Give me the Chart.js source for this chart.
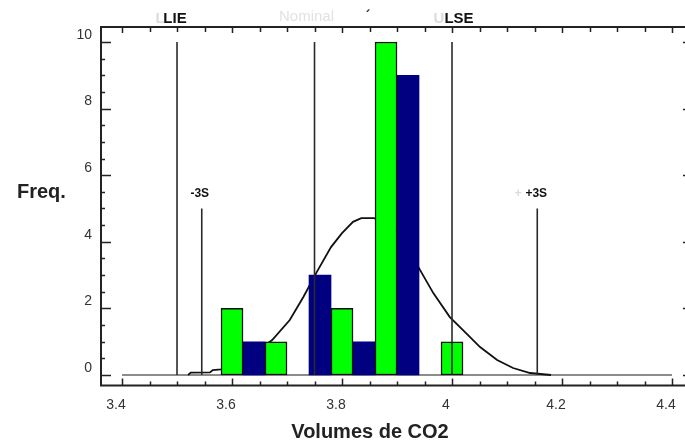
<!DOCTYPE html>
<html>
<head>
<meta charset="utf-8">
<script src="https://cdn.jsdelivr.net/npm/chart.js@4.4.1/dist/chart.umd.min.js"></script>
<style>
  html, body { margin: 0; padding: 0; background: #fff; }
</style>
</head>
<body>
<canvas id="grafica" width="685" height="444"></canvas>
<script>
// Histograma: centros de clase y frecuencias (dos series alternadas)
const clasesVerde = [3.60, 3.68, 3.80, 3.88, 4.00];
const freqVerde = [2, 1, 2, 10, 1];
const clasesAzul = [3.64, 3.76, 3.84, 3.92];
const freqAzul = [1, 3, 1, 9];

// Curva ajustada
const curvaX = [3.52, 3.525, 3.56, 3.565, 3.58, 3.60, 3.64, 3.673, 3.705, 3.73, 3.754, 3.78, 3.80, 3.82,
  3.835, 3.858, 3.88, 3.90, 3.92, 3.942, 3.966, 3.996, 4.02, 4.051, 4.082, 4.111, 4.142, 4.18];
const curvaY = [0, 0.07, 0.08, 0.15, 0.17, 0.3, 0.65, 1.05, 1.65, 2.35, 3.09, 3.84, 4.26, 4.6,
  4.71, 4.71, 4.6, 4.3, 3.8, 3.15, 2.46, 1.74, 1.35, 0.84, 0.45, 0.21, 0.06, 0];

// Linea base (frecuencia 0)
const baseX = [3.4, 4.4];

// Limites de especificacion y +-3S
const limiteNombres = ['LIE', 'Nominal', 'LSE', '-3S', '+3S'];
const limiteValores = [3.5, 3.75, 4.0, 3.545, 4.155];
const limiteAltos = [10, 10, 10, 5, 5];

// Etiquetas de los ejes
const ticksX = [3.4, 3.6, 3.8, 4.0, 4.2, 4.4];
const ticksY = [0, 2, 4, 6, 8, 10];

const fuente = '"Liberation Sans", Arial, sans-serif';

// Marco con marcas hacia adentro, titulos y nombres de los limites
const marcoPlugin = {
  id: 'marco',
  afterDraw(chart) {
    const ctx = chart.ctx;
    const a = chart.chartArea;
    const sx = chart.scales.x;
    const sy = chart.scales.y;
    const der = a.right + 8;
    ctx.save();
    ctx.strokeStyle = '#222';
    ctx.lineWidth = 2;
    ctx.beginPath();
    ctx.moveTo(der, a.top);
    ctx.lineTo(a.left, a.top);
    ctx.lineTo(a.left, a.bottom);
    ctx.lineTo(der, a.bottom);
    ctx.stroke();

    ctx.lineWidth = 1.5;
    ctx.beginPath();
    // marcas del eje y cada 0.5
    for (let i = 0; i <= 20; i++) {
      const v = i * 0.5;
      const py = Math.round(sy.getPixelForValue(v)) + 0.5;
      const largo = (v % 2 === 0) ? 10 : 4;
      ctx.moveTo(a.left, py); ctx.lineTo(a.left + largo, py);
      ctx.moveTo(der, py); ctx.lineTo(der - largo, py);
    }
    // marcas del eje x cada 0.05
    for (let i = 0; i <= 20; i++) {
      const px = Math.round(sx.getPixelForValue(3.4 + i * 0.05)) + 0.5;
      const mayor = i % 4 === 0;
      ctx.moveTo(px, a.bottom); ctx.lineTo(px, a.bottom - (mayor ? 7 : 4));
      ctx.moveTo(px, a.top); ctx.lineTo(px, a.top + (mayor ? 6 : 5));
    }
    ctx.stroke();

    // titulos de los ejes
    ctx.fillStyle = '#222';
    ctx.font = 'bold 20px ' + fuente;
    ctx.textBaseline = 'middle';
    ctx.textAlign = 'left';
    ctx.fillText('Freq.', 17, 192);
    ctx.textAlign = 'center';
    ctx.fillText('Volumes de CO2', 370, 432);

    // restos de texto claro detras de algunas etiquetas
    ctx.fillStyle = '#dcdcdc';
    ctx.font = 'bold 15px ' + fuente;
    ctx.fillText('L', sx.getPixelForValue(3.5) - 17, 19);
    ctx.fillText('U', sx.getPixelForValue(4.0) - 13, 19);
    ctx.font = 'bold 12px ' + fuente;
    ctx.fillText('+', sx.getPixelForValue(4.155) - 19, 194);
    ctx.fillStyle = '#222';
    ctx.font = 'bold 14px ' + fuente;
    ctx.fillText('\u00b4', 368, 17);

    // nombres de los limites
    const dx = [-2, -8, 7, -2, -1];
    limiteNombres.forEach((nombre, i) => {
      const px = sx.getPixelForValue(limiteValores[i]) + dx[i];
      let py;
      if (limiteAltos[i] === 10) {
        py = sy.getPixelForValue(limiteAltos[i]) - 23;
      } else {
        py = sy.getPixelForValue(limiteAltos[i]) - 15;
      }
      if (nombre === 'Nominal') {
        ctx.font = '15px ' + fuente;
        ctx.fillStyle = '#e2e2e2';
        py -= 2;
      } else if (limiteAltos[i] === 10) {
        ctx.font = 'bold 15px ' + fuente;
        ctx.fillStyle = '#111';
      } else {
        ctx.font = 'bold 12px ' + fuente;
        ctx.fillStyle = '#111';
      }
      ctx.fillText(nombre, px, py);
    });
    ctx.restore();
  }
};

const datasets = [];

datasets.push({
  type: 'line',
  data: baseX.map(x => ({x: x, y: 0})),
  borderColor: '#666',
  borderWidth: 1.5,
  pointRadius: 0,
  order: 6
});

datasets.push({
  type: 'line',
  data: curvaX.map((x, i) => ({x: x, y: curvaY[i]})),
  borderColor: '#111',
  borderWidth: 1.8,
  pointRadius: 0,
  tension: 0,
  order: 5
});

datasets.push({
  type: 'bar',
  data: clasesVerde.map((x, i) => ({x: x, y: freqVerde[i]})),
  backgroundColor: '#00ff00',
  borderColor: '#111',
  borderWidth: 1.5,
  borderSkipped: false,
  grouped: false,
  barPercentage: 1,
  categoryPercentage: 1,
  order: 3
});

datasets.push({
  type: 'bar',
  data: clasesAzul.map((x, i) => ({x: x, y: freqAzul[i]})),
  backgroundColor: '#000080',
  borderWidth: 0,
  grouped: false,
  barPercentage: 1,
  categoryPercentage: 1,
  order: 4
});

limiteValores.forEach((v, i) => {
  datasets.push({
    type: 'line',
    data: [{x: v, y: 0}, {x: v, y: limiteAltos[i]}],
    borderColor: '#2a2a2a',
    borderWidth: 1.6,
    pointRadius: 0,
    order: 1
  });
});

new Chart(document.getElementById('grafica'), {
  type: 'bar',
  data: { datasets: datasets },
  options: {
    responsive: false,
    animation: false,
    layout: { padding: { top: 27, left: 0, right: 0, bottom: 0 } },
    plugins: { legend: { display: false }, tooltip: { enabled: false } },
    scales: {
      x: {
        type: 'linear',
        offset: false,
        min: 3.3618,
        max: 4.4236,
        afterBuildTicks: (s) => { s.ticks = ticksX.map(v => ({value: v})); },
        afterFit: (s) => { s.height = 58.5; s.paddingLeft = 0; s.paddingRight = 0; },
        grid: { display: false, drawTicks: false },
        border: { display: false },
        ticks: {
          autoSkip: false,
          maxRotation: 0,
          padding: 11,
          labelOffset: -6,
          color: '#333',
          font: { family: fuente, size: 14 },
          callback: (v) => String(Number(v.toFixed(2)))
        }
      },
      y: {
        min: -0.315,
        max: 10.45,
        afterBuildTicks: (s) => { s.ticks = ticksY.map(v => ({value: v})); },
        afterFit: (s) => { s.width = 101; s.paddingTop = 0; s.paddingBottom = 0; },
        grid: { display: false, drawTicks: false },
        border: { display: false },
        ticks: {
          padding: 9,
          labelOffset: -7,
          color: '#333',
          font: { family: fuente, size: 14 }
        }
      }
    }
  },
  plugins: [marcoPlugin]
});
</script>
</body>
</html>
